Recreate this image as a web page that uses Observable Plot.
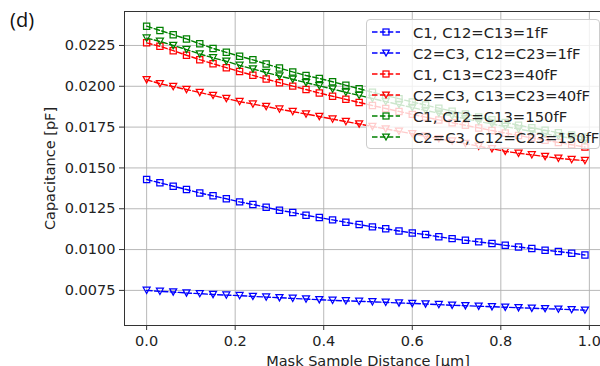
<!DOCTYPE html>
<html><head><meta charset="utf-8">
<script src="https://cdn.jsdelivr.net/npm/d3@7"></script>
<script src="https://cdn.jsdelivr.net/npm/@observablehq/plot@0.6"></script>
<style>
html,body{margin:0;padding:0;background:#fff;overflow:hidden;}
#wrap{position:relative;width:600px;height:366px;overflow:hidden;}
#chart svg{max-width:none !important;height:366px !important;}
#panel{position:absolute;left:10px;top:10px;font-family:"Open Sans",sans-serif;font-size:20px;color:#111;line-height:1;}
#legend{position:absolute;left:366px;top:19px;width:234px;height:130px;background:rgba(255,255,255,0.8);border:1px solid #cccccc;border-radius:4px;box-sizing:border-box;}
.row{position:absolute;left:5px;height:18px;display:flex;align-items:center;font-family:"DejaVu Sans",sans-serif;font-size:14.8px;color:#222;white-space:nowrap;}
.row svg{margin-right:11px;}
</style></head>
<body><div id="wrap"><div id="chart"></div><div id="panel">(d)</div><div id="legend"></div></div>
<script>
const distance = [0, 0.03, 0.06, 0.09, 0.12, 0.15, 0.18, 0.21, 0.24, 0.27, 0.30, 0.33, 0.36, 0.39, 0.42, 0.45, 0.48, 0.51, 0.54, 0.57, 0.60, 0.63, 0.66, 0.69, 0.72, 0.75, 0.78, 0.81, 0.84, 0.87, 0.90, 0.93, 0.96, 0.99];

const c1_1fF = [0.01429, 0.01409, 0.01388, 0.01368, 0.01347, 0.01329, 0.01311, 0.01292, 0.01276, 0.01259, 0.01241, 0.01227, 0.01210, 0.01196, 0.01182, 0.01167, 0.01153, 0.01139, 0.01127, 0.01114, 0.01102, 0.01092, 0.01078, 0.01067, 0.01057, 0.01047, 0.01037, 0.01026, 0.01016, 0.01006, 0.00996, 0.00988, 0.00978, 0.00967];
const c23_1fF = [0.00750, 0.00744, 0.00740, 0.00734, 0.00730, 0.00725, 0.00721, 0.00718, 0.00713, 0.00709, 0.00705, 0.00701, 0.00697, 0.00693, 0.00689, 0.00686, 0.00683, 0.00680, 0.00677, 0.00673, 0.00670, 0.00667, 0.00663, 0.00659, 0.00656, 0.00653, 0.00650, 0.00647, 0.00644, 0.00641, 0.00638, 0.00635, 0.00632, 0.00629];
const c1_40fF = [0.02266, 0.02245, 0.02218, 0.02190, 0.02163, 0.02138, 0.02114, 0.02090, 0.02067, 0.02044, 0.02022, 0.02001, 0.01980, 0.01959, 0.01939, 0.01920, 0.01901, 0.01882, 0.01864, 0.01846, 0.01828, 0.01811, 0.01794, 0.01777, 0.01761, 0.01745, 0.01729, 0.01714, 0.01699, 0.01684, 0.01670, 0.01656, 0.01642, 0.01628];
const c23_40fF = [0.02040, 0.02016, 0.01998, 0.01980, 0.01962, 0.01944, 0.01925, 0.01906, 0.01891, 0.01876, 0.01860, 0.01845, 0.01830, 0.01815, 0.01799, 0.01784, 0.01769, 0.01754, 0.01739, 0.01724, 0.01709, 0.01694, 0.01679, 0.01664, 0.01649, 0.01633, 0.01617, 0.01602, 0.01590, 0.01580, 0.01570, 0.01559, 0.01551, 0.01545];
const c1_150fF = [0.02368, 0.02342, 0.02316, 0.02290, 0.02260, 0.02232, 0.02208, 0.02184, 0.02162, 0.02136, 0.02112, 0.02088, 0.02066, 0.02048, 0.02028, 0.02006, 0.01985, 0.01964, 0.01944, 0.01924, 0.01904, 0.01885, 0.01866, 0.01848, 0.01830, 0.01812, 0.01795, 0.01778, 0.01762, 0.01746, 0.01731, 0.01716, 0.01702, 0.01688];
const c23_150fF = [0.02295, 0.02275, 0.02250, 0.02225, 0.02198, 0.02174, 0.02153, 0.02128, 0.02106, 0.02084, 0.02063, 0.02043, 0.02022, 0.02003, 0.01983, 0.01963, 0.01944, 0.01925, 0.01906, 0.01888, 0.01870, 0.01852, 0.01835, 0.01818, 0.01801, 0.01785, 0.01769, 0.01753, 0.01738, 0.01723, 0.01709, 0.01695, 0.01681, 0.01668];

const seriesNames = ["C1, C12=C13=1fF", "C2=C3, C12=C23=1fF", "C1, C13=C23=40fF", "C2=C3, C13=C23=40fF", "C1, C12=C13=150fF", "C2=C3, C12=C23=150fF"];
const seriesValues = [c1_1fF, c23_1fF, c1_40fF, c23_40fF, c1_150fF, c23_150fF];
const seriesColors = ["#0000ff", "#0000ff", "#ff0000", "#ff0000", "#008000", "#008000"];
const seriesMarkers = ["square", "tri", "square", "tri", "square", "tri"];

const xTicks = [0, 0.2, 0.4, 0.6, 0.8, 1.0];
const yTicks = [0.0075, 0.0100, 0.0125, 0.0150, 0.0175, 0.0200, 0.0225];

const triDown = {draw(ctx, size) { const r = Math.sqrt(size / Math.PI); ctx.moveTo(-r, -r * 0.9); ctx.lineTo(r, -r * 0.9); ctx.lineTo(0, r * 0.9); ctx.closePath(); }};
const symOf = m => m === "square" ? "square" : triDown;

const marks = [
  Plot.gridX(xTicks, {stroke: "#b0b0b0", strokeOpacity: 1, strokeWidth: 0.9}),
  Plot.gridY(yTicks, {stroke: "#b0b0b0", strokeOpacity: 1, strokeWidth: 0.9}),
  Plot.frame({stroke: "#333", strokeWidth: 1}),
  Plot.axisX(xTicks, {tickSize: 5, tickPadding: 5, tickFormat: d3.format(".1f"), stroke: "#333", fill: "#222",
    label: "Mask Sample Distance [μm]", labelAnchor: "center", labelOffset: 40, labelArrow: "none"}),
  Plot.axisY(yTicks, {tickSize: 5, tickPadding: 4, tickFormat: d3.format(".4f"), stroke: "#333", fill: "#222",
    label: "Capacitance [pF]", labelAnchor: "center", labelOffset: 80, labelArrow: "none"})
];
seriesNames.forEach((name, i) => {
  const rows = distance.map((x, j) => ({x, y: seriesValues[i][j], series: name}));
  marks.push(Plot.line(rows, {x: "x", y: "y", stroke: seriesColors[i], strokeWidth: 1.4, strokeDasharray: "5.5,2.4"}));
  marks.push(Plot.dot(rows, {x: "x", y: "y", stroke: seriesColors[i], fill: "none", strokeWidth: 1.25, r: 3.5, symbol: symOf(seriesMarkers[i])}));
});

const chart = Plot.plot({
  width: 611, height: 366,
  marginLeft: 124, marginRight: 0, marginTop: 11, marginBottom: 41,
  style: {fontFamily: "DejaVu Sans, sans-serif", fontSize: "14.5px", background: "white", color: "#222", maxWidth: "none"},
  x: {domain: [-0.05, 1.05]},
  y: {domain: [0.00535, 0.02458]},
  marks
});
chart.style.maxWidth = "none";
chart.style.height = "366px";
chart.style.overflow = "hidden";
document.getElementById("chart").appendChild(chart);

const legend = document.getElementById("legend");
seriesNames.forEach((name, i) => {
  const row = document.createElement("div");
  row.className = "row";
  row.style.top = (3 + i * 21) + "px";
  const c = seriesColors[i];
  const marker = seriesMarkers[i] === "square"
    ? `<rect x="11" y="4" width="6" height="6" fill="none" stroke="${c}" stroke-width="1.25"/>`
    : `<path d="M10.7,4 L17.3,4 L14,10 Z" fill="none" stroke="${c}" stroke-width="1.25"/>`;
  row.innerHTML = `<svg width="30" height="14"><line x1="0" y1="7" x2="28" y2="7" stroke="${c}" stroke-width="1.4" stroke-dasharray="5.5,2.4"/>${marker}</svg><span>${name}</span>`;
  legend.appendChild(row);
});
</script></body></html>
